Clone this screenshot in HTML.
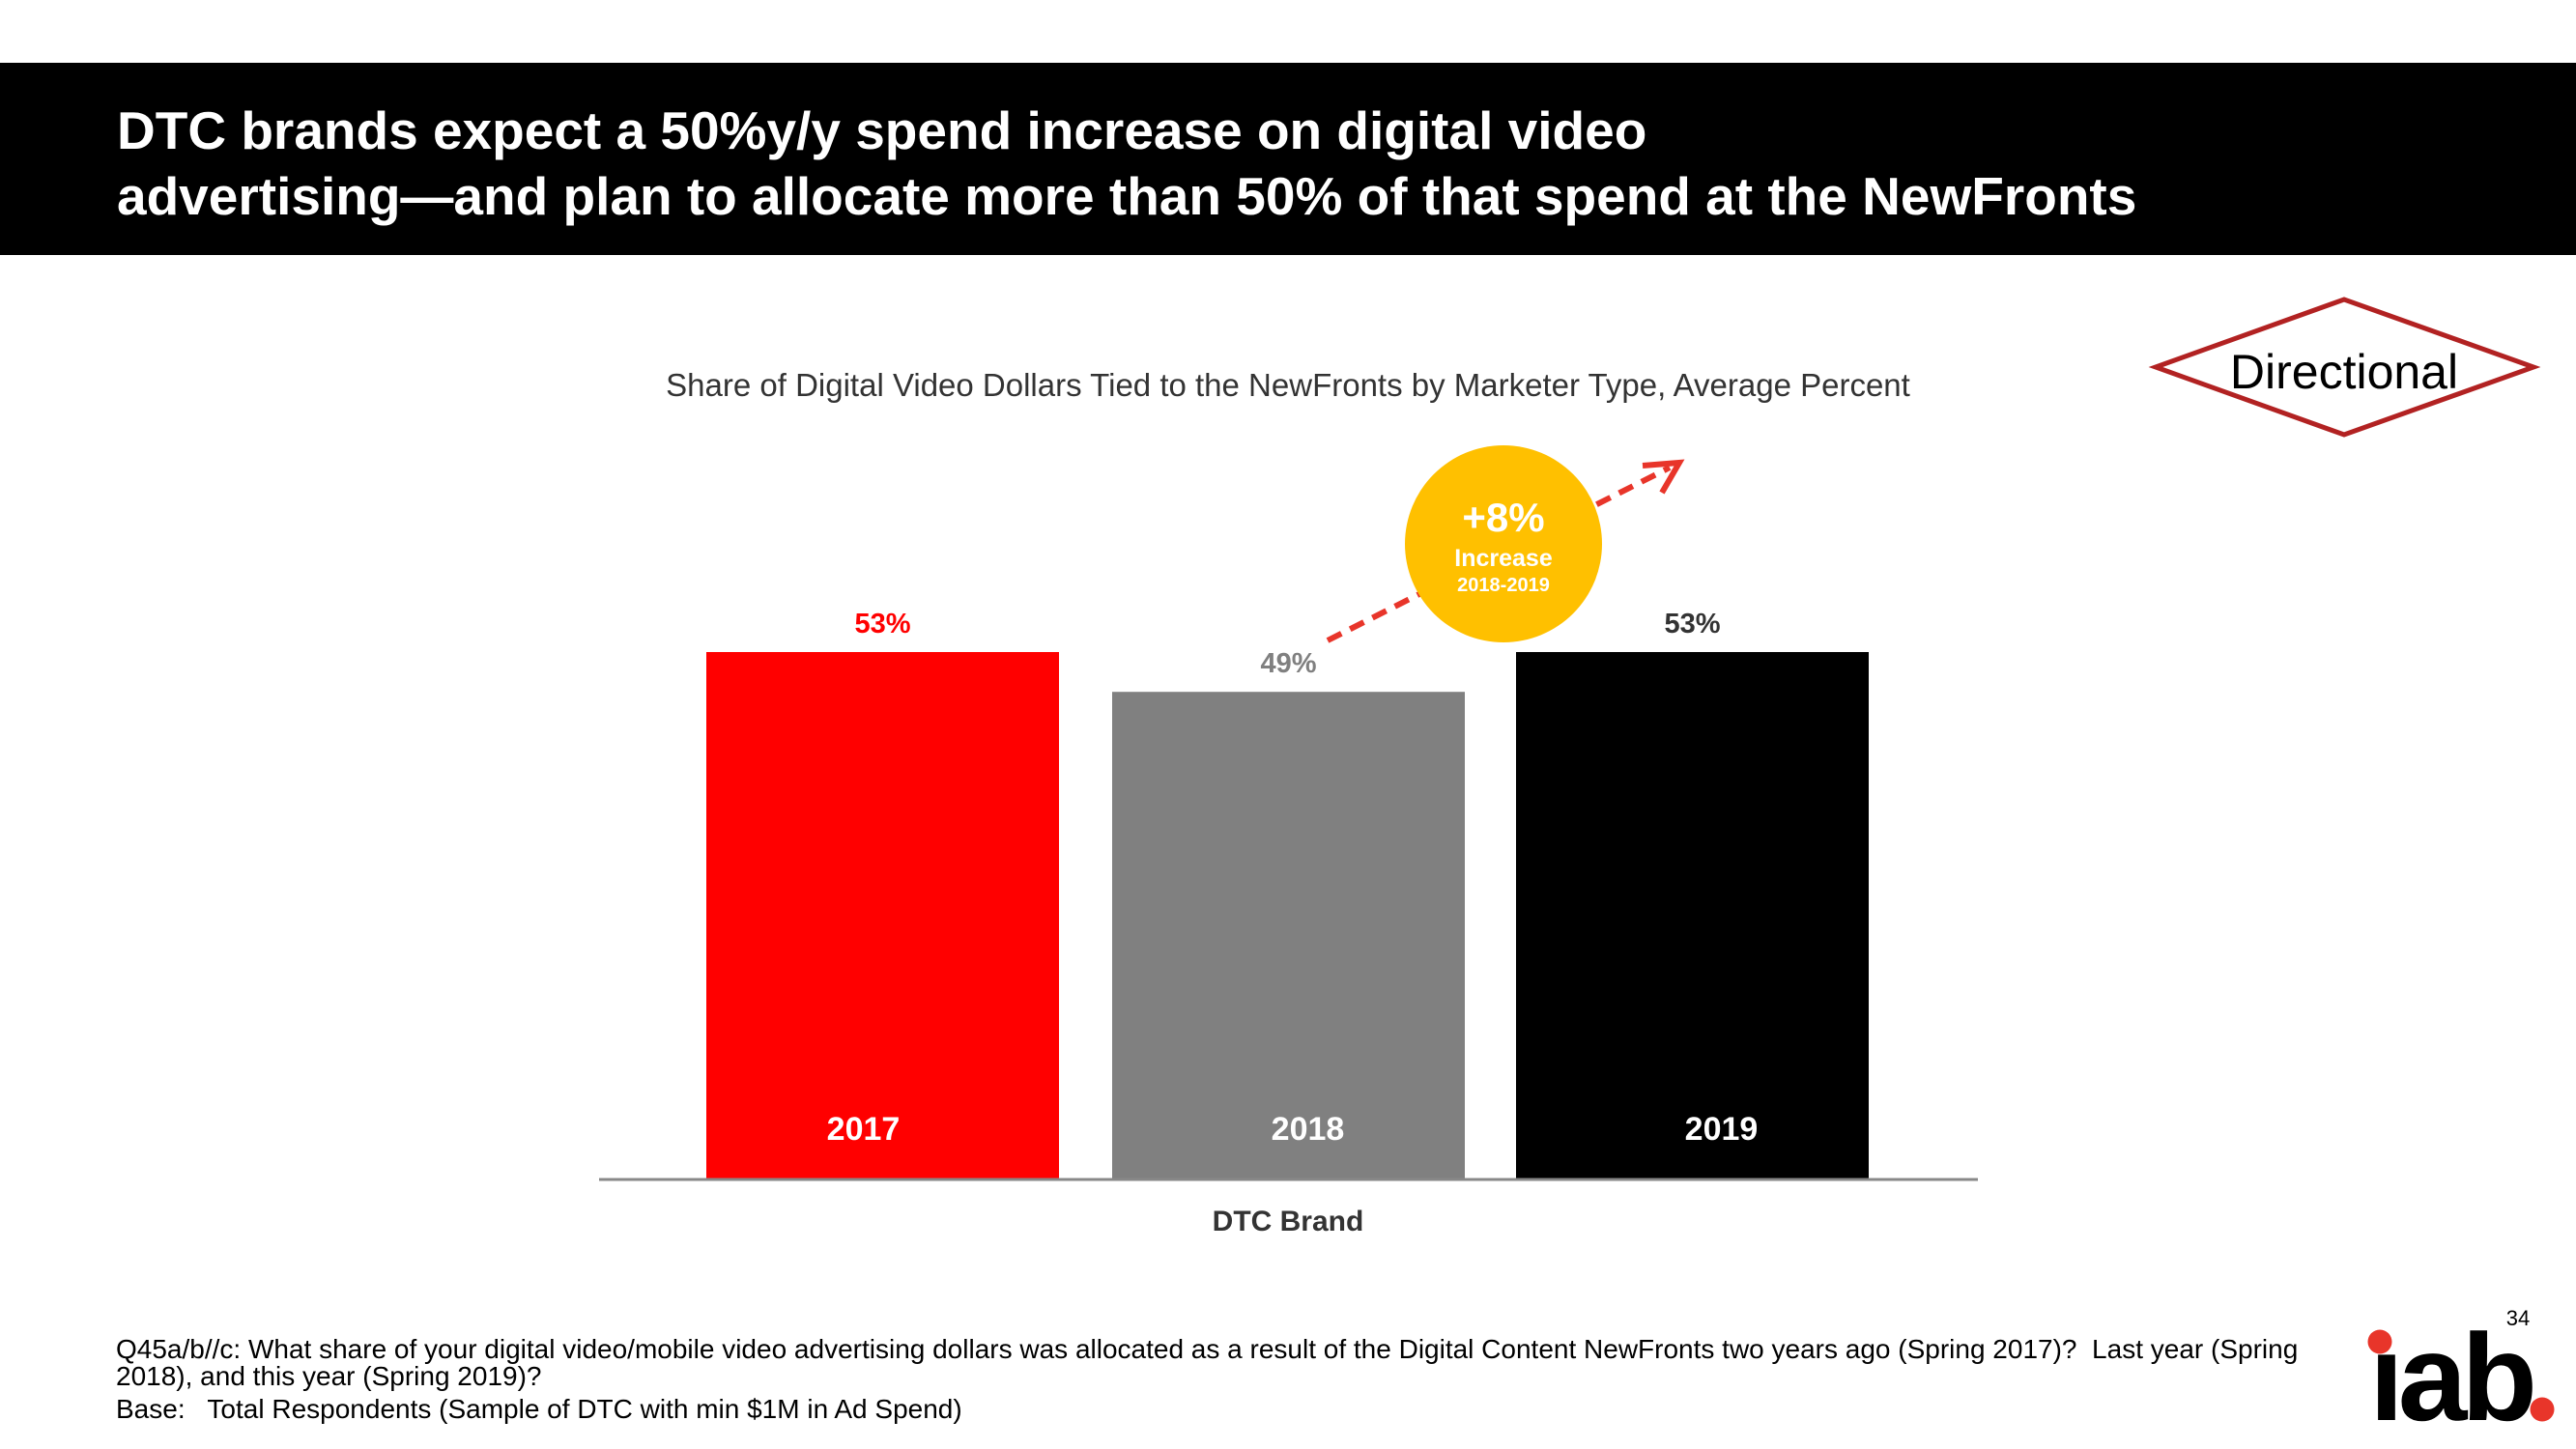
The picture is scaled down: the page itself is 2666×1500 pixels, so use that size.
<!DOCTYPE html>
<html><head><meta charset="utf-8">
<style>
html,body{margin:0;padding:0;width:2666px;height:1500px;background:#fff;overflow:hidden;font-family:"Liberation Sans",Arial,sans-serif;}
#header{position:absolute;left:0;top:65px;width:2666px;height:199px;background:#000;}
#title{position:absolute;left:121px;top:101px;color:#fff;font-weight:bold;font-size:55px;line-height:68px;}
#foot{position:absolute;left:120px;top:1383px;font-size:28px;line-height:28px;color:#000;width:2260px;}
</style></head>
<body>
<div id="header"></div>
<div id="title">DTC brands expect a 50%y/y spend increase on digital video<br>advertising—and plan to allocate more than 50% of that spend at the NewFronts</div>
<svg id="chart" width="2666" height="1500" style="position:absolute;left:0;top:0">
<text x="1333" y="410" text-anchor="middle" font-size="33" fill="#333">Share of Digital Video Dollars Tied to the NewFronts by Marketer Type, Average Percent</text>
<g id="bars"></g>
<line x1="620" y1="1221" x2="2047" y2="1221" stroke="#888" stroke-width="3"/>
<text x="1333" y="1274" text-anchor="middle" font-size="30" font-weight="bold" fill="#333">DTC Brand</text>
<line x1="1374" y1="663" x2="1728" y2="484" stroke="#E8352A" stroke-width="6" stroke-dasharray="16,10"/>
<polyline points="1700,482 1738,479 1720,510" fill="none" stroke="#E8352A" stroke-width="6"/>
<circle cx="1556" cy="563" r="102" fill="#FFC000"/>
<text x="1556" y="550" text-anchor="middle" font-size="42" font-weight="bold" fill="#fff">+8%</text>
<text x="1556" y="586" text-anchor="middle" font-size="25" font-weight="bold" fill="#fff">Increase</text>
<text x="1556" y="612" text-anchor="middle" font-size="20" font-weight="bold" fill="#fff">2018-2019</text>
<polygon points="2231,380 2426,310 2622,380 2426,450" fill="#fff" stroke="#B22222" stroke-width="5"/>
<text x="2426" y="402" text-anchor="middle" font-size="50" fill="#000">Directional</text>
<text x="2606" y="1372" text-anchor="middle" font-size="22" fill="#000">34</text>
<g>
<text x="2452" y="1470" font-size="128" font-weight="bold" fill="#000" letter-spacing="-6" textLength="168" lengthAdjust="spacingAndGlyphs">ıab</text>
<circle cx="2463" cy="1389" r="12.5" fill="#E8352A"/>
<circle cx="2631" cy="1459" r="12.5" fill="#E8352A"/>
</g>
</svg>
<div id="foot">Q45a/b//c: What share of your digital video/mobile video advertising dollars was allocated as a result of the Digital Content NewFronts two years ago (Spring 2017)?&nbsp; Last year (Spring 2018), and this year (Spring 2019)?<br><span style="display:inline-block;margin-top:6px">Base:&nbsp;&nbsp; Total Respondents (Sample of DTC with min $1M in Ad Spend)</span></div>
<script>
const categories = ["2017","2018","2019"];
const values = [53,49,53];
const valueLabels = ["53%","49%","53%"];
const barColors = ["#FF0000","#808080","#000000"];
const labelColors = ["#FF0000","#808080","#333333"];
const barLeft = [731,1151,1569];
const barW = 365, baseY = 1221, pxPerUnit = 546/53;
function y(v){return baseY - v*pxPerUnit;}
const g = document.getElementById('bars');
const NS = "http://www.w3.org/2000/svg";
categories.forEach((c,i)=>{
  const r = document.createElementNS(NS,'rect');
  r.setAttribute('x',barLeft[i]); r.setAttribute('y',y(values[i]));
  r.setAttribute('width',barW); r.setAttribute('height',baseY-y(values[i]));
  r.setAttribute('fill',barColors[i]);
  
  
  g.appendChild(r);
  const t = document.createElementNS(NS,'text');
  t.setAttribute('x',barLeft[i]+barW/2); t.setAttribute('y',y(values[i])-20);
  t.setAttribute('text-anchor','middle'); t.setAttribute('font-size','29');
  t.setAttribute('font-weight','bold'); t.setAttribute('fill',labelColors[i]);
  t.textContent = valueLabels[i];
  
  
  g.appendChild(t);
  const yl = document.createElementNS(NS,'text');
  yl.setAttribute('x',barLeft[i]+barW/2 - (i===0?20:(i===2?-30:-20))); yl.setAttribute('y',1180);
  yl.setAttribute('text-anchor','middle'); yl.setAttribute('font-size','34');
  yl.setAttribute('font-weight','bold'); yl.setAttribute('fill','#fff');
  yl.textContent = c;
  
  
  g.appendChild(yl);
});
</script>
</body></html>
